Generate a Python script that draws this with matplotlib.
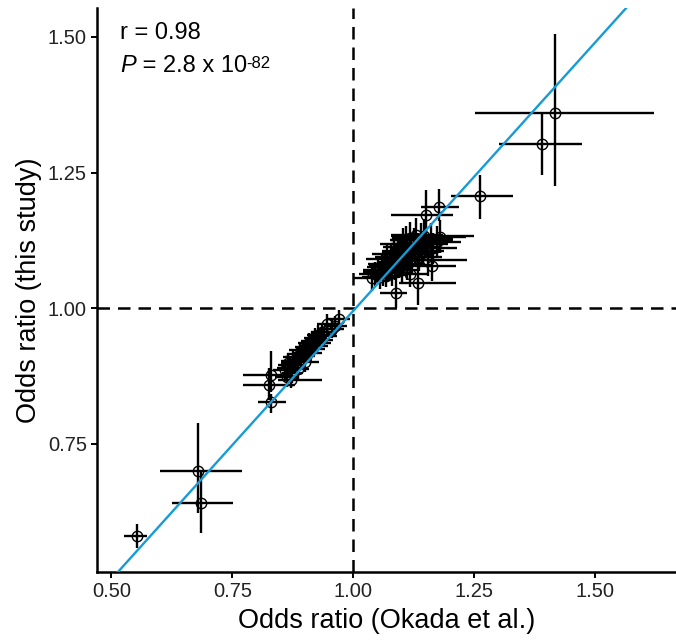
import matplotlib
matplotlib.use("Agg")
import matplotlib.pyplot as plt
import numpy as np

plt.rcParams['font.family'] = ['Liberation Sans', 'DejaVu Sans']

# odds ratios from Okada et al. with 95% CI
or_okada = [
    1.417, 1.390, 1.261, 0.552, 0.679, 0.685, 0.829, 0.826, 0.829,
    1.177, 1.151, 1.133, 1.089,
    1.045, 1.050, 1.055, 1.060, 1.062, 1.066, 1.068, 1.070, 1.072, 1.075,
    1.078, 1.080, 1.082, 1.085, 1.087, 1.090, 1.092, 1.094, 1.096, 1.098,
    1.100, 1.102, 1.104, 1.106, 1.108, 1.110, 1.112, 1.115, 1.118, 1.120,
    1.122, 1.125, 1.128, 1.130, 1.133, 1.136, 1.140, 1.143, 1.146, 1.150,
    1.155, 1.160, 1.165, 1.172, 1.180, 1.162, 1.118, 1.038,
    0.858, 0.862, 0.866, 0.870, 0.873, 0.876, 0.880, 0.883, 0.886, 0.889,
    0.892, 0.895, 0.898, 0.900, 0.903, 0.906, 0.909, 0.912, 0.915, 0.918,
    0.921, 0.925, 0.928, 0.932, 0.936, 0.940, 0.946, 0.955, 0.963, 0.970,
    0.872, 0.866,
]
okada_lo = [
    1.252, 1.302, 1.201, 0.526, 0.600, 0.625, 0.771, 0.771, 0.802,
    1.139, 1.077, 1.095, 1.056,
    1.012, 1.020, 1.018, 1.028, 1.020, 1.030, 1.035, 1.026, 1.040, 1.032,
    1.045, 1.040, 1.050, 1.038, 1.055, 1.048, 1.060, 1.045, 1.062, 1.058,
    1.066, 1.055, 1.070, 1.060, 1.075, 1.062, 1.077, 1.070, 1.080, 1.065,
    1.085, 1.077, 1.090, 1.077, 1.095, 1.090, 1.077, 1.100, 1.077, 1.105,
    1.063, 1.115, 1.118, 1.125, 1.130, 1.112, 1.085, 1.000,
    0.835, 0.838, 0.845, 0.842, 0.852, 0.850, 0.858, 0.855, 0.865, 0.862,
    0.870, 0.868, 0.876, 0.872, 0.880, 0.878, 0.886, 0.884, 0.892, 0.890,
    0.898, 0.898, 0.905, 0.906, 0.912, 0.915, 0.925, 0.930, 0.940, 0.948,
    0.845, 0.850,
]
okada_hi = [
    1.622, 1.473, 1.331, 0.573, 0.769, 0.751, 0.870, 0.880, 0.860,
    1.219, 1.207, 1.213, 1.112,
    1.080, 1.082, 1.095, 1.094, 1.106, 1.104, 1.102, 1.116, 1.105, 1.120,
    1.112, 1.122, 1.115, 1.135, 1.120, 1.134, 1.125, 1.146, 1.131, 1.140,
    1.135, 1.151, 1.139, 1.154, 1.142, 1.160, 1.148, 1.162, 1.157, 1.178,
    1.160, 1.175, 1.167, 1.186, 1.172, 1.184, 1.207, 1.188, 1.250, 1.196,
    1.234, 1.206, 1.214, 1.222, 1.232, 1.213, 1.152, 1.078,
    0.882, 0.888, 0.888, 0.900, 0.895, 0.903, 0.903, 0.912, 0.908, 0.917,
    0.915, 0.923, 0.921, 0.929, 0.927, 0.935, 0.933, 0.941, 0.939, 0.947,
    0.945, 0.953, 0.952, 0.959, 0.961, 0.966, 0.968, 0.981, 0.987, 0.993,
    0.935, 0.884,
]

# odds ratios from this study with 95% CI
or_study = [
    1.359, 1.302, 1.206, 0.579, 0.699, 0.641, 0.877, 0.859, 0.826,
    1.186, 1.172, 1.047, 1.028,
    1.062, 1.070, 1.058, 1.075, 1.066, 1.082, 1.060, 1.090, 1.071, 1.078,
    1.095, 1.065, 1.085, 1.100, 1.074, 1.092, 1.105, 1.082, 1.112, 1.095,
    1.070, 1.118, 1.088, 1.102, 1.125, 1.080, 1.110, 1.095, 1.130, 1.104,
    1.088, 1.118, 1.100, 1.135, 1.112, 1.094, 1.125, 1.105, 1.133, 1.118,
    1.088, 1.128, 1.110, 1.122, 1.132, 1.078, 1.062, 1.055,
    0.885, 0.872, 0.895, 0.890, 0.880, 0.902, 0.895, 0.910, 0.888, 0.915,
    0.905, 0.922, 0.912, 0.900, 0.928, 0.918, 0.935, 0.925, 0.940, 0.930,
    0.945, 0.935, 0.950, 0.942, 0.955, 0.948, 0.970, 0.962, 0.967, 0.979,
    0.868, 0.899,
]
study_lo = [
    1.226, 1.246, 1.165, 0.557, 0.622, 0.585, 0.846, 0.830, 0.806,
    1.161, 1.137, 1.006, 1.000,
    1.040, 1.048, 1.035, 1.052, 1.040, 1.058, 1.038, 1.062, 1.050, 1.052,
    1.072, 1.040, 1.062, 1.072, 1.052, 1.066, 1.082, 1.055, 1.088, 1.070,
    1.048, 1.090, 1.065, 1.075, 1.100, 1.052, 1.085, 1.070, 1.102, 1.076,
    1.064, 1.090, 1.075, 1.105, 1.086, 1.068, 1.095, 1.078, 1.100, 1.092,
    1.060, 1.100, 1.082, 1.094, 1.102, 1.050, 1.038, 1.032,
    0.868, 0.855, 0.878, 0.872, 0.862, 0.884, 0.878, 0.890, 0.870, 0.896,
    0.888, 0.902, 0.895, 0.882, 0.910, 0.900, 0.916, 0.906, 0.922, 0.912,
    0.927, 0.917, 0.932, 0.924, 0.937, 0.930, 0.950, 0.944, 0.948, 0.962,
    0.852, 0.880,
]
study_hi = [
    1.505, 1.359, 1.246, 0.602, 0.788, 0.700, 0.920, 0.890, 0.841,
    1.219, 1.217, 1.085, 1.058,
    1.085, 1.094, 1.082, 1.098, 1.092, 1.107, 1.083, 1.118, 1.093, 1.105,
    1.118, 1.091, 1.108, 1.129, 1.097, 1.119, 1.128, 1.110, 1.137, 1.121,
    1.093, 1.147, 1.112, 1.130, 1.151, 1.109, 1.136, 1.121, 1.159, 1.133,
    1.113, 1.147, 1.126, 1.166, 1.139, 1.121, 1.156, 1.133, 1.165, 1.145,
    1.117, 1.157, 1.139, 1.151, 1.163, 1.107, 1.087, 1.079,
    0.902, 0.890, 0.913, 0.908, 0.898, 0.920, 0.912, 0.930, 0.906, 0.934,
    0.922, 0.942, 0.929, 0.918, 0.946, 0.936, 0.954, 0.944, 0.958, 0.948,
    0.963, 0.953, 0.968, 0.960, 0.973, 0.966, 0.990, 0.980, 0.986, 0.996,
    0.884, 0.918,
]

# fitted line and correlation summary
fit_slope = 0.99
fit_intercept = 0.005
r_value = 0.98
p_mantissa = "2.8"
p_exponent = "-82"

x = np.array(or_okada)
y = np.array(or_study)
xerr = np.vstack([x - np.array(okada_lo), np.array(okada_hi) - x])
yerr = np.vstack([y - np.array(study_lo), np.array(study_hi) - y])

fig = plt.figure(figsize=(6.76, 6.40), dpi=100)
ax = fig.add_axes([0.143, 0.106, 0.857, 0.882])

dash = (0, (5, 3.2))
ax.axvline(1.0, color='black', lw=1.8, ls=dash, zorder=1)
ax.axhline(1.0, color='black', lw=1.8, ls=dash, zorder=1)

ax.errorbar(x, y, xerr=xerr, yerr=yerr, fmt='o', mfc='none', mec='black',
            ms=7.5, mew=1.0, ecolor='black', elinewidth=1.7, capsize=0, zorder=2)

xs = np.array([0.3, 1.8])
ax.plot(xs, fit_slope * xs + fit_intercept, color='#169BD5', lw=1.7, zorder=3)

ax.set_xlim(0.4695, 1.667)
ax.set_ylim(0.513, 1.554)
ax.set_xticks([0.50, 0.75, 1.00, 1.25, 1.50])
ax.set_yticks([0.75, 1.00, 1.25, 1.50])
ax.set_xticklabels(['0.50', '0.75', '1.00', '1.25', '1.50'])
ax.set_yticklabels(['0.75', '1.00', '1.25', '1.50'])

for side in ['top', 'right']:
    ax.spines[side].set_visible(False)
for side in ['left', 'bottom']:
    ax.spines[side].set_linewidth(1.8)
ax.tick_params(axis='both', length=4, width=1.4, labelsize=14.5, color='black',
               labelcolor='#222222', pad=3)

ax.set_xlabel('Odds ratio (Okada et al.)', fontsize=19.5, labelpad=5)
ax.set_ylabel('Odds ratio (this study)', fontsize=19.5, labelpad=4)

ax.text(0.04, 0.975, f'r = {r_value:.2f}', transform=ax.transAxes,
        fontsize=17, va='top', ha='left')
t_p = ax.text(0.04, 0.918, 'P', transform=ax.transAxes, fontsize=17,
              fontstyle='italic', va='top', ha='left')
t_val = ax.annotate(f' = {p_mantissa} x 10', xy=(1, 0), xycoords=t_p,
                    va='bottom', ha='left', fontsize=17)
ax.annotate(p_exponent, xy=(1, 0.62), xycoords=t_val, va='center', ha='left',
            fontsize=12)

fig.savefig('out.png', dpi=100)
